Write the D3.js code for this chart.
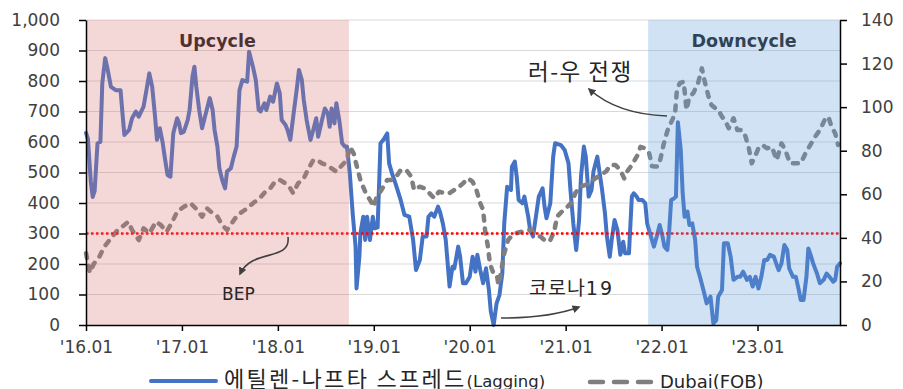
<!DOCTYPE html>
<html>
<head>
<meta charset="utf-8">
<script src="https://cdn.jsdelivr.net/npm/d3@7"></script>
<style>
  body { margin: 0; background: #fff; }
  svg { display: block; font-family: "DejaVu Sans", Verdana, sans-serif; }
</style>
</head>
<body>
<svg id="chart" width="903" height="389"></svg>
<script>
// Ethylene-naphtha spread, lagging (USD/t, left axis): [decimal year, value]
const spread = [
  [2016.00,630],[2016.02,610],[2016.05,470],[2016.07,420],[2016.09,440],[2016.12,596],[2016.15,600],[2016.17,793],[2016.20,875],[2016.22,847],[2016.26,781],[2016.31,770],[2016.36,770],[2016.38,695],[2016.40,623],[2016.45,640],[2016.48,678],[2016.52,700],[2016.55,683],[2016.60,716],[2016.63,770],[2016.66,825],[2016.69,781],[2016.72,683],[2016.74,607],[2016.77,645],[2016.80,596],[2016.82,552],[2016.85,492],[2016.88,486],[2016.91,629],[2016.95,678],[2016.97,662],[2016.99,629],
  [2017.02,634],[2017.06,672],[2017.08,705],[2017.11,814],[2017.13,847],[2017.15,781],[2017.18,705],[2017.21,645],[2017.25,695],[2017.29,744],[2017.32,705],[2017.34,640],[2017.37,585],[2017.39,515],[2017.42,475],[2017.45,448],[2017.47,503],[2017.51,514],[2017.54,552],[2017.57,585],[2017.60,770],[2017.63,803],[2017.68,798],[2017.70,896],[2017.74,847],[2017.77,803],[2017.80,705],[2017.82,700],[2017.86,727],[2017.88,705],[2017.92,749],[2017.95,732],[2017.99,792],
  [2018.02,760],[2018.04,672],[2018.08,656],[2018.10,640],[2018.13,607],[2018.16,683],[2018.20,781],[2018.22,836],[2018.25,803],[2018.27,738],[2018.30,672],[2018.34,607],[2018.37,640],[2018.40,678],[2018.42,617],[2018.46,672],[2018.49,710],[2018.52,694],[2018.54,650],[2018.56,710],[2018.59,661],[2018.61,727],[2018.64,672],[2018.67,596],[2018.70,585],[2018.72,585],[2018.75,497],[2018.78,366],[2018.81,257],[2018.82,120],[2018.85,224],[2018.86,300],[2018.89,355],[2018.91,279],[2018.93,355],[2018.96,279],[2018.99,355],
  [2019.01,317],[2019.04,320],[2019.07,596],[2019.10,607],[2019.14,628],[2019.16,530],[2019.19,497],[2019.23,460],[2019.28,410],[2019.32,361],[2019.37,355],[2019.41,279],[2019.44,180],[2019.48,213],[2019.51,290],[2019.55,290],[2019.57,355],[2019.60,366],[2019.63,355],[2019.67,388],[2019.69,371],[2019.72,333],[2019.75,279],[2019.79,126],[2019.82,191],[2019.84,186],[2019.88,257],[2019.90,224],[2019.93,137],[2019.96,137],
  [2020.00,158],[2020.03,224],[2020.06,175],[2020.08,230],[2020.11,180],[2020.14,137],[2020.17,186],[2020.20,115],[2020.22,44],[2020.25,0],[2020.28,71],[2020.31,98],[2020.34,170],[2020.36,333],[2020.39,453],[2020.43,443],[2020.44,519],[2020.47,536],[2020.49,486],[2020.51,410],[2020.55,399],[2020.57,421],[2020.61,355],[2020.63,311],[2020.66,290],[2020.69,355],[2020.72,421],[2020.76,448],[2020.78,388],[2020.80,350],[2020.84,399],[2020.87,552],[2020.89,596],[2020.95,590],[2020.99,574],
  [2021.03,530],[2021.05,443],[2021.08,333],[2021.11,246],[2021.14,344],[2021.16,486],[2021.19,585],[2021.21,552],[2021.24,421],[2021.27,443],[2021.29,503],[2021.33,552],[2021.35,508],[2021.38,443],[2021.41,366],[2021.43,290],[2021.46,224],[2021.48,279],[2021.51,344],[2021.54,311],[2021.57,230],[2021.60,273],[2021.62,235],[2021.66,235],[2021.69,421],[2021.71,432],[2021.74,421],[2021.76,410],[2021.80,410],[2021.83,399],[2021.85,333],[2021.88,300],[2021.92,257],[2021.95,290],[2021.98,328],
  [2022.01,290],[2022.03,257],[2022.06,246],[2022.08,311],[2022.10,410],[2022.13,415],[2022.15,421],[2022.17,665],[2022.20,574],[2022.22,432],[2022.24,355],[2022.27,372],[2022.29,328],[2022.32,333],[2022.35,279],[2022.37,191],[2022.40,158],[2022.44,110],[2022.47,71],[2022.51,93],[2022.54,5],[2022.57,16],[2022.59,93],[2022.63,115],[2022.65,268],[2022.69,268],[2022.72,224],[2022.75,148],[2022.79,158],[2022.82,158],[2022.85,175],[2022.89,148],[2022.92,158],[2022.95,126],[2022.98,158],
  [2023.01,120],[2023.04,158],[2023.07,213],[2023.10,213],[2023.13,230],[2023.17,224],[2023.20,197],[2023.22,180],[2023.25,202],[2023.28,262],[2023.31,246],[2023.33,186],[2023.37,158],[2023.40,158],[2023.43,115],[2023.45,82],[2023.48,82],[2023.51,158],[2023.53,251],[2023.56,224],[2023.58,202],[2023.62,169],[2023.65,137],[2023.69,148],[2023.72,169],[2023.75,158],[2023.79,142],[2023.81,148],[2023.83,191],[2023.86,202]
];

// Dubai crude, FOB (USD/bbl, right axis): [decimal year, value]
const dubai = [
  [2016.00,33],[2016.04,24],[2016.08,28],[2016.14,31.4],[2016.19,35.9],[2016.26,39.8],[2016.33,43.6],[2016.40,45.9],[2016.44,47.4],[2016.48,43.6],[2016.55,39.0],[2016.60,44.4],[2016.66,42.1],[2016.73,47.4],[2016.78,45.9],[2016.84,42.8],[2016.90,47.4],[2016.95,52.0],
  [2017.02,54.3],[2017.09,55.9],[2017.16,52.8],[2017.21,49.7],[2017.26,53.6],[2017.32,51.3],[2017.37,49.7],[2017.42,45.9],[2017.47,43.6],[2017.53,47.4],[2017.58,50.5],[2017.63,52.0],[2017.68,53.6],[2017.74,55.9],[2017.81,58.2],[2017.87,61.2],[2017.92,62.7],[2017.97,65.8],
  [2018.02,66.6],[2018.08,65.0],[2018.13,62.7],[2018.16,60.5],[2018.21,65.0],[2018.27,67.3],[2018.32,71.9],[2018.37,75.7],[2018.41,75.7],[2018.46,74.2],[2018.51,73.4],[2018.56,71.9],[2018.61,70.4],[2018.67,73.4],[2018.72,75.7],[2018.75,81.8],[2018.79,78.8],[2018.82,73.4],[2018.86,66.6],[2018.91,61.2],[2018.96,57.4],
  [2019.00,54.3],[2019.03,58.9],[2019.08,62.0],[2019.14,66.6],[2019.19,66.6],[2019.24,68.5],[2019.28,71.1],[2019.34,71.1],[2019.39,68.1],[2019.42,62.0],[2019.48,63.5],[2019.53,62.7],[2019.58,60.5],[2019.63,58.2],[2019.68,61.2],[2019.74,60.5],[2019.79,60.5],[2019.84,62.0],[2019.89,63.5],[2019.93,65.0],[2019.98,67.3],
  [2020.03,65.8],[2020.07,62.0],[2020.11,55.9],[2020.14,52.8],[2020.16,43.6],[2020.19,35.9],[2020.21,28.3],[2020.24,24.5],[2020.28,23.7],[2020.30,18.4],[2020.33,25.2],[2020.36,32.9],[2020.40,39.0],[2020.43,40.5],[2020.48,42.1],[2020.54,42.8],[2020.59,43.6],[2020.64,43.6],[2020.69,41.3],[2020.74,40.5],[2020.80,38.2],[2020.84,39.0],[2020.88,42.8],[2020.91,49.7],[2020.96,52.0],
  [2021.02,54.3],[2021.07,56.6],[2021.10,60.5],[2021.15,63.5],[2021.21,64.3],[2021.26,65.8],[2021.31,67.3],[2021.36,68.9],[2021.42,70.4],[2021.47,73.4],[2021.52,73.4],[2021.57,71.1],[2021.61,67.3],[2021.64,70.4],[2021.69,73.4],[2021.75,78.0],[2021.78,81.8],[2021.83,81.1],[2021.87,79.0],[2021.90,73.0],[2021.93,72.7],[2021.96,72.7],[2021.99,76.5],
  [2022.02,82.6],[2022.06,89.0],[2022.10,93.0],[2022.14,97.0],[2022.16,107.9],[2022.19,111.0],[2022.23,111.7],[2022.25,103.3],[2022.26,98.7],[2022.29,104.8],[2022.33,106.4],[2022.38,111.0],[2022.42,117.8],[2022.45,111.7],[2022.49,104.8],[2022.52,101.0],[2022.56,99.5],[2022.59,98.7],[2022.63,95.6],[2022.66,94.1],[2022.70,90.3],[2022.75,94.9],[2022.79,89.5],[2022.84,89.5],[2022.87,87.2],[2022.91,81.1],[2022.94,74.2],[2022.98,78.0],
  [2023.01,81.1],[2023.05,82.6],[2023.10,81.1],[2023.15,81.8],[2023.20,75.7],[2023.25,83.4],[2023.29,80.3],[2023.34,74.2],[2023.39,74.2],[2023.45,74.2],[2023.50,78.8],[2023.55,82.6],[2023.60,86.4],[2023.65,89.5],[2023.70,94.1],[2023.74,95.6],[2023.77,91.1],[2023.81,88.0],[2023.84,82.6]
];

const leftTicks = [0, 100, 200, 300, 400, 500, 600, 700, 800, 900, 1000];
const rightTicks = [0, 20, 40, 60, 80, 100, 120, 140];
const yearTicks = [2016, 2017, 2018, 2019, 2020, 2021, 2022, 2023];
const yearLabels = ["'16.01", "'17.01", "'18.01", "'19.01", "'20.01", "'21.01", "'22.01", "'23.01"];
const xDomain = [2016, 2023.86];
const cycles = [
  { name: "Upcycle", start: 2016.0, end: 2018.74, fill: "rgb(215,110,110)", text: "#1a1a1a" },
  { name: "Downcycle", start: 2021.86, end: 2023.86, fill: "rgb(100,160,215)", text: "#1a1a1a" }
];
const bepLevel = 300;
const seriesNames = ["에틸렌-나프타 스프레드", "(Lagging)", "Dubai(FOB)"];

const svg = d3.select("#chart");
const m = { top: 20, right: 63, bottom: 64, left: 86 };
const W = 903, H = 389;
const x = d3.scaleLinear().domain(xDomain).range([m.left, W - m.right]);
const yL = d3.scaleLinear().domain([0, 1000]).range([H - m.bottom, m.top]);
const yR = d3.scaleLinear().domain([0, 140]).range([H - m.bottom, m.top]);

// horizontal gridlines
svg.append("g").selectAll("line")
  .data(leftTicks.filter(d => d > 0))
  .join("line")
  .attr("x1", x(xDomain[0])).attr("x2", x(xDomain[1]))
  .attr("y1", d => yL(d)).attr("y2", d => yL(d))
  .attr("stroke", "#d9d9d9").attr("stroke-width", 1);

// cycle titles (under the tinted bands)
svg.append("g").selectAll("text")
  .data(cycles)
  .join("text")
  .attr("x", d => (x(d.start) + x(d.end)) / 2)
  .attr("y", 47)
  .attr("text-anchor", "middle")
  .attr("font-size", 17.5).attr("font-weight", "bold")
  .attr("fill", d => d.text)
  .text(d => d.name);

const lineSpread = d3.line().x(d => x(d[0])).y(d => yL(d[1]));
const lineDubai = d3.line().x(d => x(d[0])).y(d => yR(d[1]));

svg.append("path").datum(spread)
  .attr("d", lineSpread)
  .attr("fill", "none").attr("stroke", "#4472c4")
  .attr("stroke-width", 4).attr("stroke-linejoin", "round").attr("stroke-linecap", "round");

svg.append("path").datum(dubai)
  .attr("d", lineDubai)
  .attr("fill", "none").attr("stroke", "#7f7f7f")
  .attr("stroke-width", 4.5).attr("stroke-linejoin", "round").attr("stroke-linecap", "round")
  .attr("stroke-dasharray", "5,8");

// break-even level
svg.append("line")
  .attr("x1", x(xDomain[0])).attr("x2", x(xDomain[1]))
  .attr("y1", yL(bepLevel)).attr("y2", yL(bepLevel))
  .attr("stroke", "#ff0000").attr("stroke-width", 2.5)
  .attr("stroke-dasharray", "2.5,2.5");

// tinted cycle bands laid over the series
svg.append("g").selectAll("rect")
  .data(cycles)
  .join("rect")
  .attr("x", d => x(d.start))
  .attr("width", d => x(d.end) - x(d.start))
  .attr("y", yL(1000))
  .attr("height", yL(0) - yL(1000))
  .attr("fill", d => d.fill)
  .attr("opacity", (d, i) => i === 0 ? 0.28 : 0.3);

// axes
const axisStyle = g => {
  g.select(".domain").attr("stroke", "#000").attr("stroke-width", 1.5);
  g.selectAll(".tick line").attr("stroke", "#000").attr("stroke-width", 1.5);
  g.selectAll(".tick text").attr("fill", "#404040").attr("font-size", 17)
    .attr("font-family", "'DejaVu Sans', Verdana, sans-serif");
};

svg.append("g")
  .attr("transform", `translate(${m.left},0)`)
  .call(d3.axisLeft(yL).tickValues(leftTicks).tickSize(7).tickSizeOuter(0).tickPadding(19).tickFormat(d3.format(",")))
  .call(axisStyle);

svg.append("g")
  .attr("transform", `translate(${W - m.right},0)`)
  .call(d3.axisRight(yR).tickValues(rightTicks).tickSize(7).tickSizeOuter(0).tickPadding(14))
  .call(axisStyle);

svg.append("g")
  .attr("transform", `translate(0,${H - m.bottom})`)
  .call(d3.axisBottom(x).tickValues(yearTicks).tickSize(6).tickSizeOuter(0).tickPadding(10)
    .tickFormat((d, i) => yearLabels[i]))
  .call(axisStyle);

// annotation arrows
const defs = svg.append("defs");
defs.append("marker")
  .attr("id", "head")
  .attr("viewBox", "0 0 10 10")
  .attr("refX", 8).attr("refY", 5)
  .attr("markerWidth", 5).attr("markerHeight", 5)
  .attr("markerUnits", "strokeWidth")
  .attr("orient", "auto")
  .append("path").attr("d", "M0,0 L10,5 L0,10 Z").attr("fill", "#404040");

const ann = svg.append("g").attr("fill", "none").attr("stroke", "#404040").attr("stroke-width", 1.6);
ann.append("path").attr("d", "M288,237 C291,262 252,248 240,274").attr("marker-end", "url(#head)");
ann.append("path").attr("d", "M667,116 C640,115 610,108 589,89").attr("marker-end", "url(#head)");
ann.append("path").attr("d", "M501,318 C530,318 558,315 579,307").attr("marker-end", "url(#head)");

const kr = "'Noto Sans CJK KR', sans-serif";
svg.append("text").attr("x", 222).attr("y", 300).attr("font-size", 17)
  .attr("fill", "#262626").text("BEP");

svg.append("text").attr("x", 528).attr("y", 80).attr("font-size", 22.5)
  .attr("letter-spacing", 1.5)
  .attr("font-family", kr).attr("fill", "#262626").text("러-우 전쟁");

const covid = svg.append("text").attr("x", 529).attr("y", 295).attr("fill", "#262626");
covid.append("tspan").attr("font-family", kr).attr("font-size", 19.5).attr("letter-spacing", 1).text("코로나");
covid.append("tspan").attr("font-size", 19).attr("letter-spacing", 2).text("19");

// legend
const lg = svg.append("g");
lg.append("line").attr("x1", 151).attr("x2", 216).attr("y1", 381).attr("y2", 381)
  .attr("stroke", "#4472c4").attr("stroke-width", 4).attr("stroke-linecap", "round");
const lt = lg.append("text").attr("x", 224).attr("y", 387).attr("fill", "#262626");
lt.append("tspan").attr("font-family", kr).attr("font-size", 22).attr("letter-spacing", 2.3).text(seriesNames[0]);
lt.append("tspan").attr("font-size", 16.5).text(seriesNames[1]);
lg.append("line").attr("x1", 590).attr("x2", 652).attr("y1", 382).attr("y2", 382)
  .attr("stroke", "#7f7f7f").attr("stroke-width", 4.5).attr("stroke-linecap", "round")
  .attr("stroke-dasharray", "13,11");
lg.append("text").attr("x", 660).attr("y", 388).attr("font-size", 18)
  .attr("fill", "#262626").text(seriesNames[2]);
</script>
</body>
</html>
